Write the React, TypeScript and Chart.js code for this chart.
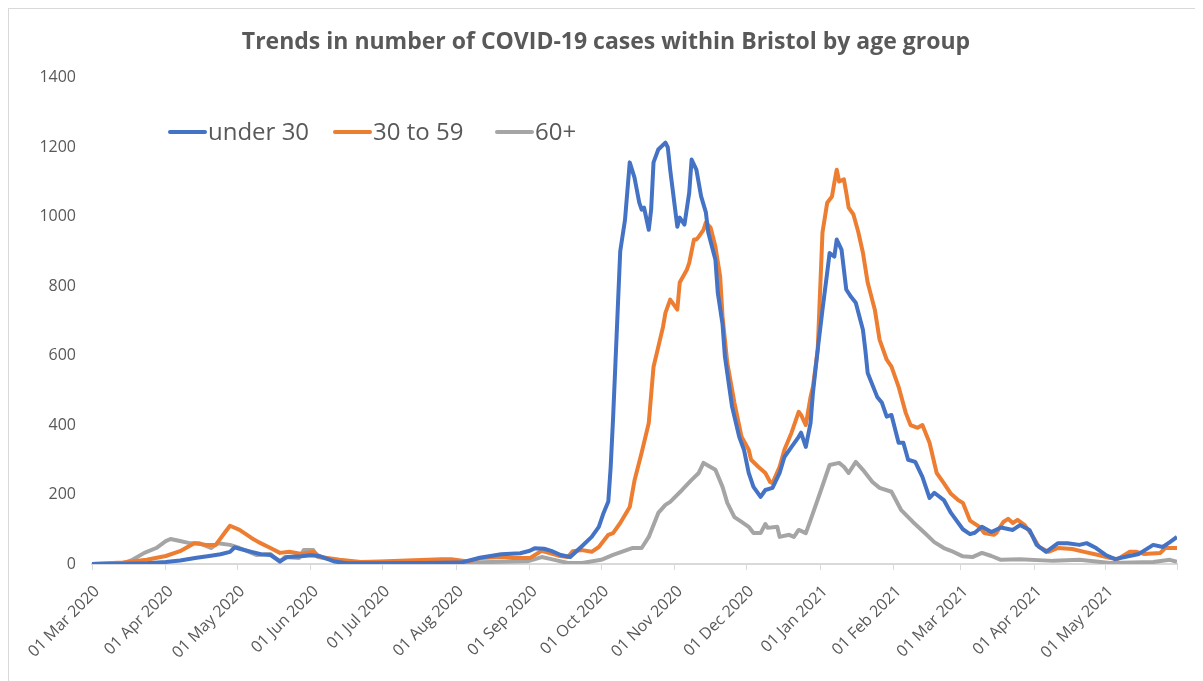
import React, { useEffect, useRef } from "react";
import { Chart, registerables } from "chart.js";

Chart.register(...registerables);

// Days counted from 01 Mar 2020
const tickDays = [0, 31, 61, 92, 122, 153, 184, 214, 245, 275, 306, 337, 365, 396, 426, 456];
const tickLabels = [
  "01 Mar 2020", "01 Apr 2020", "01 May 2020", "01 Jun 2020", "01 Jul 2020",
  "01 Aug 2020", "01 Sep 2020", "01 Oct 2020", "01 Nov 2020", "01 Dec 2020",
  "01 Jan 2021", "01 Feb 2021", "01 Mar 2021", "01 Apr 2021", "01 May 2021", "",
];

const under30Days = [0,13,23,31,37,44,50,54,58,60,62,67,71,75,79,82,88,92,96,102,107,120,140,155,163,172,180,184,186,190,193,197,201,206,210,213,215,217,218,219,220,221,222,224,226,228,230,231,232,234,235,236,238,241,242,243,246,247,249,251,252,254,256,258,259,262,263,265,266,269,272,274,276,278,281,283,286,289,291,294,297,298,300,302,303,305,307,309,310,312,313,315,317,319,321,324,325,326,330,332,334,336,339,341,343,346,349,352,354,358,361,366,369,371,374,378,382,387,390,394,397,401,406,410,415,418,422,426,430,434,440,446,450,453,456];
const under30Vals = [0,1,2,6,10,18,24,28,35,48,44,35,28,26,8,20,22,25,22,7,2,2,3,4,18,28,31,38,45,44,38,26,20,52,78,107,147,180,280,420,580,740,900,990,1156,1112,1040,1020,1026,962,1020,1156,1193,1213,1199,1135,971,997,977,1069,1164,1135,1058,1012,954,876,781,690,597,453,366,329,262,222,193,213,219,262,308,337,366,378,337,406,493,617,732,840,895,885,934,905,790,769,752,674,617,550,481,464,424,429,349,349,300,294,251,190,205,184,147,100,86,90,107,92,105,98,112,98,55,35,60,60,55,60,46,26,14,20,29,55,49,63,78];

const age30to59Days = [0,13,23,31,37,43,48,52,56,58,62,67,70,75,79,83,88,93,96,104,113,121,147,151,158,163,172,177,184,189,196,200,202,206,210,213,217,219,222,226,228,231,234,236,238,240,241,243,246,247,250,251,253,254,255,257,258,260,262,264,265,267,270,273,276,277,280,283,285,286,289,291,294,297,298,300,302,303,305,307,309,311,312,313,314,316,317,318,320,322,324,326,329,331,334,336,339,342,344,347,349,352,355,358,361,364,366,369,373,375,379,380,383,385,387,389,392,395,398,402,406,412,417,423,428,431,436,439,442,449,451,456];
const age30to59Vals = [0,4,12,23,37,60,55,55,92,110,98,75,63,46,32,35,29,35,20,12,6,7,14,14,7,17,20,17,17,38,24,20,37,40,35,49,84,89,118,164,240,320,406,568,625,683,723,761,732,810,847,867,934,934,942,962,983,968,914,827,712,579,464,366,329,300,280,262,236,233,280,329,378,438,429,400,481,510,617,954,1040,1058,1098,1135,1101,1107,1069,1026,1006,957,896,810,732,646,588,568,510,435,400,392,400,349,262,233,202,184,176,125,107,89,84,89,121,130,118,127,112,84,49,35,46,43,35,26,17,14,35,35,29,32,46,46];

const age60PlusDays = [0,13,17,22,27,31,33,37,41,45,50,53,58,62,69,75,79,81,87,89,93,95,100,107,115,163,183,189,193,200,206,214,219,227,231,234,238,241,243,248,252,255,257,262,265,267,270,273,276,278,281,283,284,288,289,293,295,297,300,302,306,310,314,316,318,321,324,328,331,336,340,345,350,354,358,361,366,370,374,378,382,390,404,415,428,446,453,456];
const age60PlusVals = [0,2,12,32,46,66,72,66,60,60,46,60,55,46,26,29,6,20,17,40,40,20,14,6,3,5,8,20,14,3,3,12,26,46,46,78,147,170,179,213,242,262,291,271,222,176,135,121,107,89,89,115,104,107,78,84,78,98,89,127,205,285,291,280,262,294,271,236,219,208,156,121,89,63,46,38,22,20,32,23,12,14,9,12,3,6,12,6];

const seriesNames = ["under 30", "30 to 59", "60+"];
const seriesColors = ["#4472C4", "#ED7D31", "#A5A5A5"];
const titleText = "Trends in number of COVID-19 cases within Bristol by age group";

const TEXT = "#595959";
const FONT = "'Open Sans', 'Noto Sans', sans-serif";

const toPoints = (days: number[], vals: number[]) => days.map((d, i) => ({ x: d, y: vals[i] }));

const insideLegend = {
  id: "insideLegend",
  afterDraw(chart: any) {
    const ctx = chart.ctx;
    const y = 123;
    const starts = [161, 326, 488];
    ctx.save();
    ctx.font = `24px ${FONT}`;
    ctx.textBaseline = "middle";
    ctx.textAlign = "left";
    seriesNames.forEach((name, i) => {
      const x0 = starts[i];
      ctx.strokeStyle = seriesColors[i];
      ctx.lineWidth = 4;
      ctx.lineCap = "round";
      ctx.beginPath();
      ctx.moveTo(x0, y);
      ctx.lineTo(x0 + 35, y);
      ctx.stroke();
      ctx.fillStyle = TEXT;
      ctx.fillText(name, x0 + 38, y + 1);
    });
    ctx.restore();
  },
};

export default function App() {
  const ref = useRef<HTMLCanvasElement | null>(null);
  useEffect(() => {
    if (!ref.current) return;
    const data = [
      toPoints(under30Days, under30Vals),
      toPoints(age30to59Days, age30to59Vals),
      toPoints(age60PlusDays, age60PlusVals),
    ];
    const chart = new Chart(ref.current, {
      type: "line",
      data: {
        datasets: seriesNames.map((name, i) => ({
          label: name,
          data: data[i],
          borderColor: seriesColors[i],
          backgroundColor: seriesColors[i],
          borderWidth: 4,
          pointRadius: 0,
          tension: 0,
          fill: false,
          borderJoinStyle: "round",
        })),
      },
      options: {
        animation: false,
        responsive: false,
        devicePixelRatio: 1,
        layout: { padding: { left: 26, right: 26, top: 0, bottom: 0 } },
        plugins: {
          legend: { display: false },
          tooltip: { enabled: false },
          title: {
            display: true,
            text: titleText,
            color: TEXT,
            font: { family: FONT, size: 23, weight: "bold" },
            padding: { top: 20, bottom: 21 },
          },
        },
        scales: {
          x: {
            type: "linear",
            min: 0,
            max: 456,
            afterBuildTicks: (s: any) => {
              s.ticks = tickDays.map((v) => ({ value: v }));
            },
            afterFit: (s: any) => {
              s.height = 117;
            },
            ticks: {
              autoSkip: false,
              maxRotation: 45,
              minRotation: 45,
              color: TEXT,
              font: { family: FONT, size: 16 },
              padding: 12,
              labelOffset: 5,
              callback: (_v: any, i: number) => tickLabels[i] ?? "",
            },
            grid: { drawOnChartArea: false, drawTicks: true, tickLength: 6, color: "#d9d9d9", lineWidth: 1 },
            border: { color: "#d9d9d9", width: 2 },
          },
          y: {
            min: 0,
            max: 1400,
            afterFit: (s: any) => {
              s.width = 57;
            },
            ticks: {
              stepSize: 200,
              color: TEXT,
              font: { family: FONT, size: 16 },
              padding: 8,
              callback: (v: any) => String(v),
            },
            grid: { display: false },
            border: { display: false },
          },
        },
      },
      plugins: [insideLegend],
    } as any);
    return () => chart.destroy();
  }, []);

  return (
    <div style={{ width: 1195, height: 673, borderLeft: "1px solid #d9d9d9", borderTop: "1px solid #d9d9d9", boxSizing: "border-box" }}>
      <canvas ref={ref} width={1194} height={672} style={{ display: "block", width: 1194, height: 672 }} />
    </div>
  );
}
